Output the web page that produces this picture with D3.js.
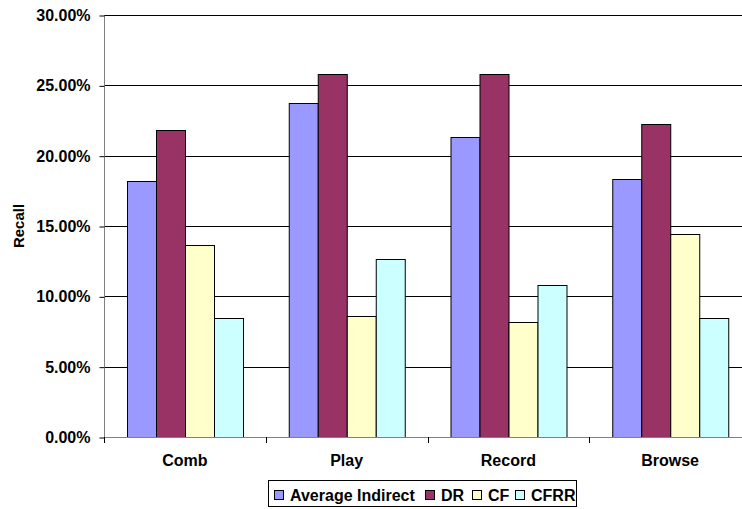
<!DOCTYPE html>
<html>
<head>
<meta charset="utf-8">
<script src="https://cdn.jsdelivr.net/npm/d3@7"></script>
<style>
  html, body { margin: 0; padding: 0; background: #fff; }
  svg { display: block; }
  text { font-family: "Liberation Sans", Arial, sans-serif; font-weight: bold; fill: #000; }
</style>
</head>
<body>
<svg id="chart" width="742" height="509"></svg>
<script>
// Recall per query type, one array per method
const categories = ["Comb", "Play", "Record", "Browse"];
const seriesNames = ["Average Indirect", "DR", "CF", "CFRR"];
const averageIndirect = [0.1817, 0.2374, 0.2130, 0.1834];
const dr = [0.2179, 0.2580, 0.2580, 0.2222];
const cf = [0.1362, 0.0857, 0.0815, 0.1440];
const cfrr = [0.0846, 0.1265, 0.1078, 0.0846];
const seriesColors = ["#9999FF", "#993366", "#FFFFCC", "#CCFFFF"];
const yTicks = [0, 0.05, 0.10, 0.15, 0.20, 0.25, 0.30];

const seriesValues = [averageIndirect, dr, cf, cfrr];

const svg = d3.select("#chart");
const plot = { left: 104, right: 751, top: 15, bottom: 437 };

const x0 = d3.scaleBand().domain(categories).range([plot.left, plot.right]).paddingInner(0).paddingOuter(0);
const x1 = d3.scaleBand().domain(seriesNames).range([0, x0.bandwidth()]).paddingInner(0).paddingOuter(0.79);
const y = d3.scaleLinear().domain([0, 0.30]).range([plot.bottom, plot.top]);

// horizontal gridlines
svg.append("g")
  .selectAll("line")
  .data(yTicks.slice(1))
  .join("line")
  .attr("x1", plot.left)
  .attr("x2", plot.right)
  .attr("y1", d => Math.round(y(d)) + 0.5)
  .attr("y2", d => Math.round(y(d)) + 0.5)
  .attr("stroke", "#000")
  .attr("stroke-width", 1);

// bars
const rows = categories.map((c, i) => ({ category: c, values: seriesNames.map((s, j) => ({ series: s, value: seriesValues[j][i], color: seriesColors[j] })) }));

svg.append("g")
  .selectAll("g")
  .data(rows)
  .join("g")
  .attr("transform", d => `translate(${x0(d.category)},0)`)
  .selectAll("rect")
  .data(d => d.values)
  .join("rect")
  .attr("x", d => Math.round(x1(d.series)) + 0.5)
  .attr("y", d => Math.round(y(d.value)) + 0.5)
  .attr("width", Math.round(x1.bandwidth()))
  .attr("height", d => Math.round(y(0)) - Math.round(y(d.value)))
  .attr("fill", d => d.color)
  .attr("stroke", "#000")
  .attr("stroke-width", 1);

// y axis
const yAxis = d3.axisLeft(y)
  .tickValues(yTicks)
  .tickSize(5)
  .tickPadding(9)
  .tickFormat(d3.format(".2%"));

const yg = svg.append("g")
  .attr("transform", `translate(${plot.left + 0.5},0.5)`)
  .call(yAxis);
yg.select(".domain").attr("stroke", "#808080").attr("d", `M0,${plot.top}V${plot.bottom}`);
yg.selectAll(".tick line").attr("stroke", "#000");
yg.selectAll(".tick text")
  .attr("font-size", 16)
  .attr("font-family", "Liberation Sans, Arial, sans-serif")
  .attr("font-weight", "bold")
  .attr("fill", "#000");

// x axis: ticks at category boundaries, labels centered under groups
const boundaries = categories.map(c => x0(c)).concat([plot.right]);
const xg = svg.append("g");
xg.append("line")
  .attr("x1", plot.left).attr("x2", plot.right)
  .attr("y1", plot.bottom + 0.5).attr("y2", plot.bottom + 0.5)
  .attr("stroke", "#808080");
xg.selectAll("line.tick")
  .data(boundaries)
  .join("line")
  .attr("class", "tick")
  .attr("x1", d => Math.round(d) + 0.5)
  .attr("x2", d => Math.round(d) + 0.5)
  .attr("y1", plot.bottom)
  .attr("y2", plot.bottom + 6)
  .attr("stroke", "#000");
xg.selectAll("text")
  .data(categories)
  .join("text")
  .attr("x", d => x0(d) + x0.bandwidth() / 2)
  .attr("y", 466)
  .attr("text-anchor", "middle")
  .attr("font-size", 16)
  .text(d => d);

// y axis title
svg.append("text")
  .attr("transform", "translate(24,226) rotate(-90)")
  .attr("text-anchor", "middle")
  .attr("font-size", 15)
  .text("Recall");

// legend
const legend = svg.append("g");
legend.append("rect")
  .attr("x", 268.5).attr("y", 480.5)
  .attr("width", 308).attr("height", 26)
  .attr("fill", "#fff")
  .attr("stroke", "#000");

const legendX = [274, 425, 472, 515];
const items = legend.selectAll("g.item")
  .data(seriesNames)
  .join("g")
  .attr("class", "item")
  .attr("transform", (d, i) => `translate(${legendX[i]},0)`);
items.append("rect")
  .attr("x", 0.5).attr("y", 490.5)
  .attr("width", 9).attr("height", 9)
  .attr("fill", (d, i) => seriesColors[i])
  .attr("stroke", "#000");
items.append("text")
  .attr("x", 16)
  .attr("y", 501)
  .attr("font-size", 16)
  .text(d => d);
</script>
</body>
</html>
